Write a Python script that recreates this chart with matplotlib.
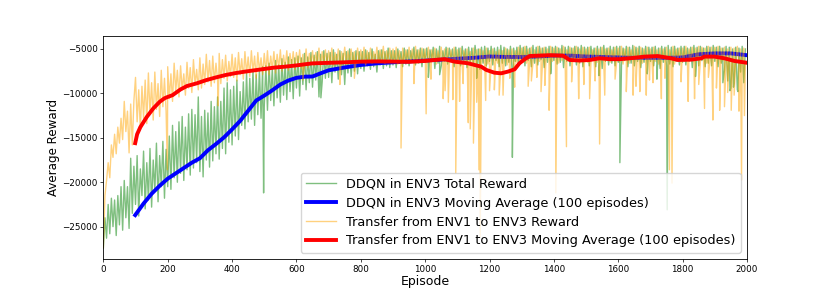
import numpy as np
import matplotlib
matplotlib.use('Agg')
import matplotlib.pyplot as plt

# raw rewards, read every 5 episodes (ep 0..1995)
raw_ep = np.arange(0, 2000, 5)

ddqn_raw = [
    -27400, -24000, -26300, -22500, -25800, -21800, -25000, -22000, -26000, -21500, -24800, -20500, -25400, -19800, -24000, -20500, -25200, -17300, -23500, -18200,
    -22500, -17000, -23800, -18500, -21500, -16500, -23000, -17800, -22000, -16200, -22800, -17500, -21000, -15600, -22200, -17000, -20500, -15400, -21800, -16300,
    -20500, -14800, -20800, -13600, -19500, -14300, -20000, -13200, -19000, -12600, -19800, -13800, -18600, -12300, -19200, -11800, -18400, -12400, -17800, -10400,
    -18800, -12600, -19400, -11900, -17500, -12200, -18300, -10900, -17600, -11500, -16800, -10400, -17400, -10900, -16200, -9400, -16800, -8800, -15500, -9600,
    -15800, -9200, -14800, -8500, -15200, -9800, -13600, -8700, -14000, -7700, -13200, -8300, -12900, -7400, -13600, -7900, -12400, -7200, -12800, -7000,
    -11500, -6900, -11900, -6600, -10800, -7200, -11400, -6300, -10500, -6800, -11000, -6100, -10200, -6500, -10700, -5900, -9800, -6200, -10600, -6000,
    -9400, -5800, -10300, -6000, -9000, -5500, -9600, -5900, -8800, -5400, -9300, -5700, -8500, -5300, -10400, -5600, -8700, -5200, -8300, -5500,
    -8200, -5400, -8800, -5100, -7600, -5600, -8400, -5200, -7900, -5500, -9000, -5300, -7700, -5000, -8100, -5400, -7500, -5200, -7800, -5300,
    -7200, -5300, -7500, -5100, -6900, -5400, -7300, -5000, -7000, -5600, -7600, -5200, -6800, -5100, -7200, -5300, -6900, -4900, -7100, -5200,
    -6800, -5200, -7100, -5000, -6600, -5300, -7000, -4900, -6700, -5100, -6900, -5200, -6500, -4800, -6800, -5100, -6600, -4900, -7000, -5000,
    -6500, -4900, -6800, -5100, -6200, -4800, -7200, -5000, -6600, -4700, -6900, -5200, -6400, -4800, -6700, -4900, -6300, -5000, -7000, -4800,
    -6600, -4900, -6900, -4700, -6300, -5000, -7100, -4800, -6500, -4900, -6800, -4600, -6200, -5000, -7300, -4800, -6600, -4700, -6900, -4900,
    -6400, -4700, -6800, -4900, -6300, -4800, -7000, -4600, -6600, -4800, -6900, -5000, -6500, -4700, -7200, -4900, -6400, -4800, -6700, -4600,
    -6500, -4800, -6900, -4700, -6300, -4900, -7000, -4600, -6600, -4800, -6800, -4700, -6200, -4900, -7100, -4800, -6500, -4700, -6900, -4800,
    -6300, -4700, -6700, -4900, -6500, -4600, -7100, -4800, -6400, -4700, -6900, -4900, -6300, -4700, -6800, -4800, -6600, -4600, -7000, -4800,
    -6400, -4800, -6900, -4700, -6200, -4900, -7000, -4700, -6500, -4800, -7200, -4600, -6400, -4900, -6800, -4700, -6600, -4800, -6900, -4700,
    -6500, -4700, -6800, -4900, -6300, -4700, -7000, -4800, -6600, -4600, -6900, -4800, -6400, -4700, -7100, -4900, -6500, -4700, -6800, -4800,
    -6400, -4800, -6900, -4700, -6600, -4900, -7200, -4700, -6500, -4800, -6900, -4600, -6700, -4800, -7000, -4700, -6400, -4900, -6800, -4700,
    -6500, -4700, -6800, -4900, -6400, -4800, -7100, -4600, -6700, -4800, -6900, -4700, -6300, -4900, -7000, -4700, -6600, -4800, -6900, -4600,
    -6400, -4800, -7000, -4700, -6600, -4900, -7400, -4700, -8600, -4800, -9400, -5000, -8900, -4800, -9600, -4900, -7600, -4700, -8800, -5000,
]

transfer_raw = [
    -27400, -21500, -19800, -17800, -19500, -15800, -17200, -14600, -16800, -13800, -15600, -12800, -15200, -10900, -14300, -12000, -16700, -11200, -15800, -10800,
    -8200, -13200, -9600, -14100, -9200, -12800, -8500, -13400, -7700, -12300, -8800, -13000, -7600, -11800, -8900, -12600, -7400, -11500, -8300, -12000,
    -7000, -10600, -7800, -10900, -6600, -9800, -7400, -10400, -6900, -9600, -7800, -10200, -6500, -9400, -7100, -9900, -6200, -9000, -7300, -9600,
    -6000, -9400, -6700, -9000, -5600, -8700, -6300, -9200, -5800, -8800, -6600, -8500, -5500, -8900, -6200, -8300, -5700, -8600, -6400, -8100,
    -5600, -8200, -6000, -8600, -5400, -7900, -6100, -8400, -5300, -7800, -5900, -8100, -5200, -7600, -5800, -8300, -5400, -7500, -6000, -7900,
    -5500, -7600, -5200, -7900, -5800, -7300, -5300, -7700, -5600, -7200, -5100, -7500, -5700, -7100, -5200, -7400, -5500, -7000, -5300, -7300,
    -5400, -7000, -5100, -7200, -5600, -6800, -5000, -7100, -5500, -6700, -5200, -6900, -5400, -6600, -4900, -7000, -5300, -6500, -5100, -6800,
    -5200, -6700, -4900, -6900, -5400, -6500, -5000, -6800, -5300, -6400, -4800, -6700, -5200, -6300, -5000, -6600, -5300, -6400, -4900, -6500,
    -5100, -6500, -4800, -6800, -5200, -6300, -4900, -6600, -5300, -6200, -4800, -6500, -5100, -6300, -4700, -6600, -5200, -6200, -4900, -6400,
    -5000, -6500, -4800, -6700, -5200, -6300, -4900, -6600, -5100, -6200, -4800, -6500, -5000, -6400, -4700, -6600, -5100, -6300, -4900, -6500,
    -5000, -6600, -4800, -6800, -5100, -6400, -4900, -6700, -5200, -6300, -4800, -6600, -5000, -6500, -4900, -6800, -5100, -6400, -4800, -6700,
    -5100, -6700, -4900, -6900, -5200, -6500, -5000, -6800, -5300, -6600, -4900, -6700, -5100, -6900, -5000, -6600, -5200, -6800, -4900, -6700,
    -5200, -6800, -5000, -6900, -5300, -6600, -5100, -7000, -5200, -6700, -4900, -6800, -5100, -6600, -5000, -6900, -5200, -6500, -4800, -6600,
    -4900, -6500, -4700, -6600, -5000, -6300, -4800, -6500, -5100, -6200, -4700, -6400, -4900, -6300, -4800, -6500, -5000, -6200, -4700, -6400,
    -4900, -6400, -4800, -6600, -5000, -6300, -4700, -6500, -5100, -6200, -4800, -6400, -4900, -6300, -4700, -6500, -5000, -6200, -4800, -6400,
    -5000, -6500, -4800, -6600, -5100, -6300, -4900, -6500, -5000, -6400, -4800, -6600, -5000, -6300, -4900, -6500, -5100, -6200, -4800, -6400,
    -4900, -6500, -4700, -6700, -5000, -6300, -4800, -6600, -5100, -6200, -4700, -6500, -4900, -6400, -4800, -6600, -5000, -6300, -4800, -6500,
    -5000, -6600, -4800, -6400, -5100, -6700, -4900, -6300, -5000, -6600, -4800, -6500, -5100, -6300, -4700, -6700, -5000, -6400, -4900, -6600,
    -4900, -6400, -4700, -6600, -5000, -6300, -4800, -6500, -4900, -6200, -4700, -6500, -4800, -6300, -4900, -6600, -4700, -6400, -4800, -6500,
    -4800, -6500, -4700, -6600, -4900, -6300, -4800, -6700, -5000, -6400, -4800, -6600, -4900, -6500, -4700, -6800, -5000, -6500, -4900, -6700,
]

# single-episode drops seen in the plot
ddqn_spike_ep = [498, 676, 1010, 1045, 1160, 1271, 1390, 1540, 1605, 1690, 1720, 1752, 1840, 1925, 1947, 1958, 1972]
ddqn_spike_val = [-21200, -10500, -8200, -7900, -8300, -17200, -7800, -8000, -17800, -7800, -8400, -23100, -8100, -8800, -9700, -9300, -9800]

transfer_spike_ep = [199, 357, 620, 735, 780, 925, 965, 1003, 1018, 1056, 1062, 1072, 1086, 1095, 1107, 1118, 1134, 1140,
                     1150, 1160, 1167, 1171, 1174, 1188, 1200, 1215, 1230, 1242, 1263, 1278, 1320, 1330, 1347, 1360,
                     1372, 1385, 1406, 1439, 1455, 1477, 1493, 1511, 1528, 1542, 1558, 1590, 1625, 1646, 1655, 1667,
                     1687, 1697, 1708, 1734, 1745, 1759, 1767, 1795, 1817, 1837, 1850, 1868, 1880, 1894, 1905, 1915,
                     1930, 1940, 1951, 1960, 1975, 1983, 1992]
transfer_spike_val = [-18600, -11400, -8500, -9000, -8300, -16150, -8900, -12300, -8400, -10600, -9700, -11000, -10700, -19000, -10900, -8900, -13300, -14000,
                      -15600, -11000, -18600, -26100, -12500, -10800, -9700, -9600, -10200, -10200, -8300, -9300, -9200, -8600, -8200, -9800,
                      -9100, -11900, -21200, -16000, -8700, -10600, -9000, -10600, -8600, -15700, -10200, -8400, -9800, -10200, -9200, -9800,
                      -10200, -8500, -8800, -10600, -8300, -18600, -20100, -8700, -10900, -10600, -9000, -11700, -8200, -13000, -9400, -11900,
                      -11500, -9900, -11900, -10200, -12000, -19750, -12500]

# 100-episode moving averages
ddqn_ma_ep = [99, 125, 150, 175, 200, 225, 250, 275, 300, 325, 350, 375, 400, 425, 450, 475, 500, 525, 550, 575,
              600, 625, 650, 675, 700, 750, 800, 850, 900, 950, 1000, 1050, 1100, 1150, 1200, 1250, 1300, 1350,
              1400, 1450, 1500, 1550, 1600, 1650, 1700, 1750, 1800, 1850, 1900, 1950, 1999]
ddqn_ma = [-23700, -22400, -21300, -20400, -19600, -19000, -18400, -17800, -17300, -16400, -15700, -14950, -14050, -13100, -11950, -10800, -10250, -9650, -9000, -8550,
           -8250, -8120, -8100, -7740, -7400, -7080, -6800, -6620, -6500, -6400, -6300, -6200, -6100, -6000, -5850, -5900, -5900, -5850,
           -5750, -5750, -5850, -5900, -5950, -6000, -6000, -6000, -5950, -5600, -5500, -5500, -5700]

transfer_ma_ep = [99, 105, 115, 135, 155, 175, 190, 200, 215, 240, 260, 290, 320, 350, 380, 410, 440, 470, 500, 530,
                  565, 600, 625, 650, 700, 750, 800, 850, 900, 950, 1000, 1030, 1060, 1092, 1133, 1174, 1190, 1215,
                  1236, 1257, 1278, 1293, 1309, 1325, 1387, 1428, 1449, 1480, 1511, 1542, 1573, 1604, 1636, 1682,
                  1723, 1764, 1785, 1827, 1858, 1868, 1899, 1930, 1961, 1999]
transfer_ma = [-15600, -14600, -13800, -12650, -11700, -10950, -10550, -10400, -10200, -9550, -9170, -8870, -8500, -8200, -7930, -7720, -7550, -7400, -7250, -7100,
               -6990, -6850, -6730, -6620, -6560, -6500, -6430, -6400, -6420, -6450, -6350, -6240, -6150, -6430, -6610, -6990, -7360, -7670,
               -7740, -7550, -7290, -6610, -6160, -5790, -5700, -5750, -6240, -6300, -6240, -6050, -6150, -6150, -6050, -5860,
               -5800, -6050, -6240, -6200, -6050, -5860, -5860, -6050, -6350, -6550]


def merge(ep, vals, sp_ep, sp_val):
    x = np.concatenate([ep, sp_ep])
    y = np.concatenate([vals, sp_val])
    order = np.argsort(x, kind='stable')
    return x[order], y[order]


g_x, g_y = merge(raw_ep, ddqn_raw, ddqn_spike_ep, ddqn_spike_val)
o_x, o_y = merge(raw_ep, transfer_raw, transfer_spike_ep, transfer_spike_val)

fig = plt.figure(figsize=(8.3, 2.97), dpi=100)
ax = fig.add_subplot(111)
fig.subplots_adjust(left=0.1245, right=0.9, top=0.88, bottom=0.128)

ax.plot(g_x, g_y, color='green', alpha=0.5, lw=1.0, label='DDQN in ENV3 Total Reward')
ax.plot(ddqn_ma_ep, ddqn_ma, color='blue', lw=2.8, label='DDQN in ENV3 Moving Average (100 episodes)')
ax.plot(o_x, o_y, color='orange', alpha=0.5, lw=1.0, label='Transfer from ENV1 to ENV3 Reward')
ax.plot(transfer_ma_ep, transfer_ma, color='red', lw=2.8, label='Transfer from ENV1 to ENV3 Moving Average (100 episodes)')

ax.set_xlim(0, 2000)
ax.set_ylim(-28640, -3500)
ax.set_xticks(np.arange(0, 2001, 200))
ax.set_yticks([-25000, -20000, -15000, -10000, -5000])
ax.tick_params(labelsize=6.3, length=2, width=0.5, pad=2)
for s in ax.spines.values():
    s.set_linewidth(0.6)
ax.set_xlabel('Episode', fontsize=9, labelpad=1)
ax.set_ylabel('Average Reward', fontsize=8.6, labelpad=1.5)
ax.legend(loc='lower right', fontsize=9.3, labelspacing=0.45, handlelength=2.3)

fig.savefig('out.png', dpi=100)
